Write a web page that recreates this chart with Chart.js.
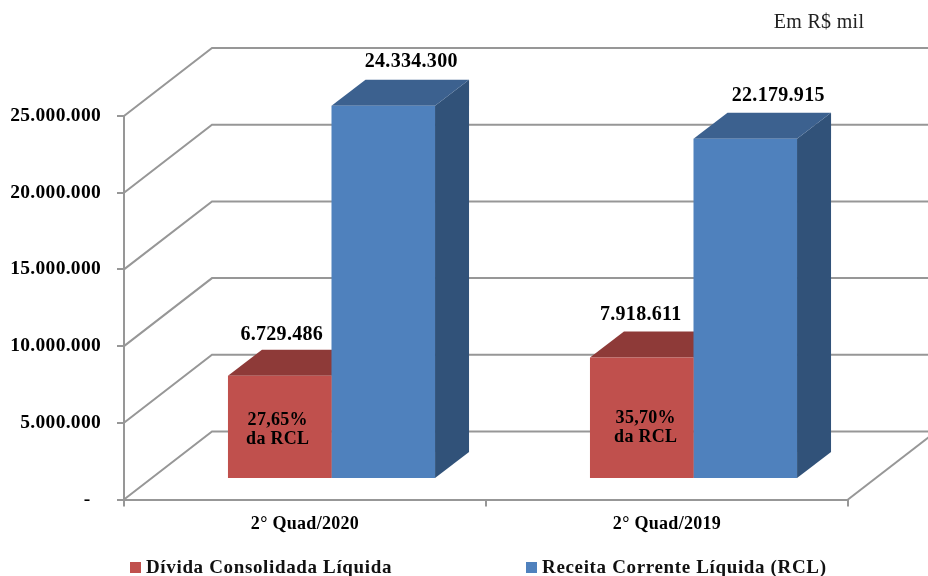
<!DOCTYPE html>
<html lang="pt-BR">
<head>
<meta charset="utf-8">
<title>Dívida Consolidada Líquida e RCL</title>
<script src="https://cdn.jsdelivr.net/npm/chart.js@4"></script>
<style>
    body { margin: 0; background: #fff; }
    #wrap { position: relative; width: 928px; height: 576px; overflow: hidden; }
    #legend {
        position: absolute; left: 130px; top: 556px; display: flex; gap: 134px;
        font: bold 19px "Liberation Serif", serif; letter-spacing: 0.65px; line-height: 22px;
        white-space: nowrap; color: #111;
    }
    #legend i { display: inline-block; width: 11px; height: 11px; margin-right: 5px; }
</style>
</head>
<body>
<div id="wrap">
    <canvas id="chart" width="928" height="576"></canvas>
    <div id="legend"></div>
</div>
<script>
// Values (R$ mil)
const categories = ['2° Quad/2020', '2° Quad/2019'];
const dividaLiquida = [6729486, 7918611];
const receitaLiquida = [24334300, 22179915];
const percentRcl = ['27,65%', '35,70%'];
const yTicks = [0, 5000000, 10000000, 15000000, 20000000, 25000000];

const SERIF = '"Liberation Serif", serif';
const GRID = '#979797';

// 3D look: how far the walls and the bars are pushed back
const wallDepth = { x: 88, y: 68 };
const barShift = { x: 26.5, y: 20.5 };
const barDepth = { x: 34, y: 26 };

const seriesStyle = [
    { front: '#c0504d', top: '#8e3a38', side: '#8e3a38' },
    { front: '#4f81bd', top: '#3c618f', side: '#315279' }
];
// Data labels sit a bit differently on each bar
const labelOffset = [[{ x: 2, y: 41 }, { x: -1, y: 43 }], [{ x: 28, y: 44 }, { x: 33, y: 43 }]];
const ratioOffset = [{ x: -2, y: 79 }, { x: 4, y: 81 }];

function formatThousands(value) {
    return String(value).replace(/\B(?=(\d{3})+$)/g, '.');
}

function polygon(ctx, points, color) {
    ctx.fillStyle = color;
    ctx.beginPath();
    points.forEach((p, i) => (i ? ctx.lineTo(p[0], p[1]) : ctx.moveTo(p[0], p[1])));
    ctx.closePath();
    ctx.fill();
}

const threeD = {
    id: 'threeD',
    beforeDraw(chart) {
        chart.ctx.letterSpacing = '0.3px';
    },
    beforeDatasetsDraw(chart) {
        const ctx = chart.ctx;
        const area = chart.chartArea;
        const yScale = chart.scales.y;

        // Side and back walls
        ctx.save();
        ctx.strokeStyle = GRID;
        ctx.lineWidth = 2;
        yTicks.forEach(tick => {
            const y = yScale.getPixelForValue(tick);
            ctx.beginPath();
            ctx.moveTo(area.left, y);
            ctx.lineTo(area.left + wallDepth.x, y - wallDepth.y);
            ctx.lineTo(chart.width, y - wallDepth.y);
            ctx.stroke();
        });
        ctx.beginPath();
        ctx.moveTo(area.right, area.bottom);
        ctx.lineTo(area.right + wallDepth.x, area.bottom - wallDepth.y);
        ctx.stroke();
        ctx.restore();

        // Bars are drawn by the library inside this translation, closed in afterDatasetsDraw
        ctx.save();
        ctx.translate(barShift.x, -barShift.y);
        chart.data.datasets.forEach((dataset, d) => {
            chart.getDatasetMeta(d).data.forEach(bar => {
                const left = bar.x - bar.width / 2;
                const right = bar.x + bar.width / 2;
                polygon(ctx, [[right, bar.y], [right + barDepth.x, bar.y - barDepth.y],
                    [right + barDepth.x, bar.base - barDepth.y], [right, bar.base]], seriesStyle[d].side);
                polygon(ctx, [[left, bar.y], [left + barDepth.x, bar.y - barDepth.y],
                    [right + barDepth.x, bar.y - barDepth.y], [right, bar.y]], seriesStyle[d].top);
            });
        });
    },
    afterDatasetsDraw(chart) {
        const ctx = chart.ctx;
        ctx.restore();

        ctx.save();
        ctx.textAlign = 'center';
        ctx.textBaseline = 'middle';
        ctx.fillStyle = '#000';
        ctx.font = 'bold 20px ' + SERIF;
        chart.data.datasets.forEach((dataset, d) => {
            chart.getDatasetMeta(d).data.forEach((bar, i) => {
                const off = labelOffset[d][i];
                ctx.fillText(formatThousands(dataset.data[i]), bar.x + barShift.x + off.x, bar.y - barShift.y - off.y);
            });
        });

        // Share of RCL written on the red bars
        ctx.font = 'bold 18px ' + SERIF;
        chart.getDatasetMeta(0).data.forEach((bar, i) => {
            const off = ratioOffset[i];
            const x = bar.x + barShift.x + off.x;
            const y = chart.chartArea.bottom - off.y;
            ctx.fillText(percentRcl[i], x, y);
            ctx.fillText('da RCL', x, y + 19);
        });

        ctx.font = '20px ' + SERIF;
        ctx.fillStyle = '#222';
        ctx.fillText('Em R$ mil', 819, 23);
        ctx.restore();
    }
};

new Chart(document.getElementById('chart'), {
    type: 'bar',
    data: {
        labels: categories,
        datasets: [
            { label: 'Dívida Consolidada Líquida', data: dividaLiquida, backgroundColor: seriesStyle[0].front },
            { label: 'Receita Corrente Líquida (RCL)', data: receitaLiquida, backgroundColor: seriesStyle[1].front }
        ]
    },
    options: {
        responsive: false,
        animation: false,
        layout: { padding: { top: 116, right: 80 } },
        datasets: { bar: { categoryPercentage: 0.572, barPercentage: 1, clip: false } },
        plugins: { legend: { display: false }, tooltip: { enabled: false } },
        scales: {
            x: {
                afterFit: scale => { scale.height = 76.5; },
                grid: { drawOnChartArea: false, color: GRID, tickLength: 7, lineWidth: 2 },
                border: { color: GRID, width: 2 },
                ticks: { color: '#000', padding: 7, maxRotation: 0, font: { family: SERIF, size: 18, weight: 'bold' } }
            },
            y: {
                min: 0,
                max: 25000000,
                afterFit: scale => { scale.width = 124; },
                afterBuildTicks: scale => { scale.ticks = yTicks.map(value => ({ value })); },
                grid: { drawOnChartArea: false, color: GRID, tickLength: 7, lineWidth: 2 },
                border: { color: GRID, width: 2 },
                ticks: {
                    color: '#000',
                    padding: 16,
                    font: { family: SERIF, size: 19.5, weight: 'bold' },
                    callback: value => (value === 0 ? '-  ' : formatThousands(value))
                }
            }
        }
    },
    plugins: [threeD, {
        id: 'htmlLegend',
        afterUpdate(chart) {
            document.getElementById('legend').innerHTML = chart.data.datasets
                .map(ds => `<span><i style="background:${ds.backgroundColor}"></i>${ds.label}</span>`)
                .join('');
        }
    }]
});
</script>
</body>
</html>
